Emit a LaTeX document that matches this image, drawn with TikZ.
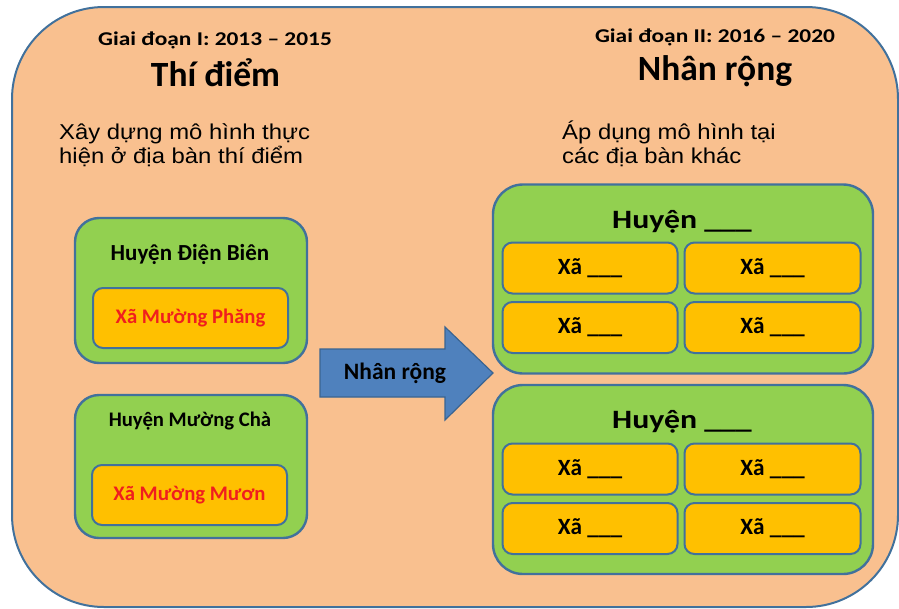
\documentclass[tikz,border=0pt]{standalone}
\usepackage{fontspec}
\setmainfont{Carlito}
\newfontfamily\widefont{Carlito}[FakeStretch=1.2]
\newfontfamily\descfont{Liberation Sans}[FakeStretch=1.11]
\definecolor{peach}{HTML}{F9C08F}
\definecolor{edgeblue}{HTML}{41719C}
\definecolor{leaf}{HTML}{92D050}
\definecolor{amber}{HTML}{FFC000}
\definecolor{arrowblue}{HTML}{4F81BD}
\definecolor{arrowedge}{HTML}{3A6491}
\definecolor{redtext}{HTML}{F01E1E}
\tikzset{
  x=1pt, y=-1pt,
  panel/.style={draw=edgeblue, line width=2pt, fill=peach, rounded corners=92pt},
  district/.style={draw=edgeblue, line width=2.4pt, fill=leaf, rounded corners=24pt, rectangle, inner sep=0pt},
  commune/.style={draw=edgeblue, line width=2pt, fill=amber, rounded corners=10pt, rectangle, inner sep=0pt},
  hdr/.style={font=\widefont\bfseries\fontsize{19.5}{24}\selectfont, anchor=base},
  bigtitle/.style={font=\bfseries\fontsize{35.5}{40}\selectfont, anchor=base},
  desc/.style={font=\descfont\fontsize{21.5}{25}\selectfont, anchor=base west, inner sep=0pt},
  rdlabel/.style={font=\widefont\bfseries\fontsize{26.5}{32}\selectfont, anchor=base},
  clabel/.style={font=\bfseries\fontsize{20.7}{24}\selectfont, text=redtext},
  xlabel/.style={font=\bfseries\fontsize{23.3}{26}\selectfont},
  arrowtext/.style={font=\bfseries\fontsize{23.5}{26}\selectfont},
}
\begin{document}
\begin{tikzpicture}
\useasboundingbox (0,0) rectangle (899,608);
\fill[white] (0,0) rectangle (899,608);
% outer panel
\draw[panel] (12,7) rectangle (898,607);

% headings of the two phases
\node[hdr] (h1) at (215,45) {Giai đoạn I: 2013 – 2015};
\node[bigtitle] (t1) at (215.5,86) {Thí điểm};
\node[hdr] (h2) at (715,42) {Giai đoạn II: 2016 – 2020};
\node[bigtitle] (t2) at (715,80) {Nhân rộng};
\node[desc] (d1a) at (59,139) {Xây dựng mô hình thực};
\node[desc] (d1b) at (59,163) {hiện ở địa bàn thí điểm};
\node[desc] (d2a) at (562,139) {Áp dụng mô hình tại};
\node[desc] (d2b) at (562,163) {các địa bàn khác};

% pilot districts
\node[district, minimum width=232pt, minimum height=145pt] (dA) at (191,290.5) {};
\node[font=\bfseries\fontsize{23}{26}\selectfont, anchor=base] (dAl) at (190,260.5) {Huyện Điện Biên};
\node[commune, minimum width=195pt, minimum height=60pt] (cA) at (190.5,318) {};
\node[clabel] (cAl) at (cA) {Xã Mường Phăng};

\node[district, minimum width=232pt, minimum height=143pt] (dB) at (191,466.5) {};
\node[font=\bfseries\fontsize{20.7}{24}\selectfont, anchor=base] (dBl) at (190,426.5) {Huyện Mường Chà};
\node[commune, minimum width=195pt, minimum height=60pt] (cB) at (189.5,495) {};
\node[clabel] (cBl) at (cB) {Xã Mường Mươn};

% block arrow between the phases
\draw[fill=arrowblue, draw=arrowedge, line width=1.2pt]
  (320,349) -- (445,349) -- (445,327) -- (493,373) -- (445,420) -- (445,397) -- (320,397) -- cycle;
\node[arrowtext] (arr) at (395,373) {Nhân rộng};

% replicated districts, four communes each
\foreach \nm/\cy/\ty/\ra/\rb in {P/279/228.3/268/327.5, Q/479.5/428.3/469/528.5} {
  \node[district, minimum width=380pt, minimum height=189pt, rounded corners=30pt] (\nm) at (683,\cy) {};
  \node[rdlabel] (\nm l) at (682,\ty) {Huyện \_\_\_};
  \node[commune, minimum width=175pt, minimum height=51pt] (\nm 1) at (590,\ra) {};
  \node[commune, minimum width=176pt, minimum height=51pt] (\nm 2) at (772.5,\ra) {};
  \node[commune, minimum width=175pt, minimum height=51pt] (\nm 3) at (590,\rb) {};
  \node[commune, minimum width=176pt, minimum height=51pt] (\nm 4) at (772.5,\rb) {};
  \foreach \k in {1,2,3,4} \node[xlabel] at (\nm\k) {Xã \_\_\_};
}
\end{tikzpicture}
\end{document}
